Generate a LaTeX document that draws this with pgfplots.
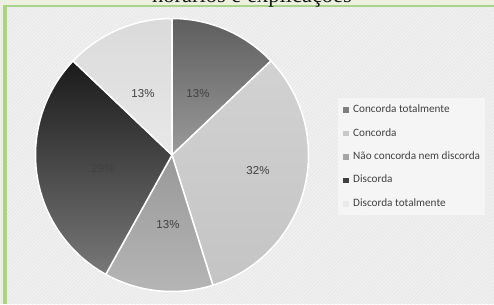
\documentclass[border=0pt]{standalone}
\usepackage{pgfplots}
\usepackage{pgfplotstable}
\pgfplotsset{compat=1.18}
\usetikzlibrary{patterns.meta}
\usepackage{fontspec}
\setmainfont{Liberation Sans}
\newfontfamily\carlito{Carlito}
\newfontfamily\titlefont{Liberation Serif}

\definecolor{bg}{HTML}{EAEAEA}
\definecolor{hatch}{HTML}{F4F4F4}
\definecolor{stripgreen}{HTML}{EBF1DE}
\definecolor{linegreen}{HTML}{A9D38A}
\definecolor{legbg}{HTML}{F5F5F5}
\definecolor{lbl}{HTML}{404040}
% legend colours
\definecolor{cA}{HTML}{7F7F7F}
\definecolor{cB}{HTML}{C8C8C8}
\definecolor{cC}{HTML}{A5A5A5}
\definecolor{cD}{HTML}{404040}
\definecolor{cE}{HTML}{EAEAEA}
% slice gradients (top / bottom)
\definecolor{tA}{HTML}{5E5E5E}\definecolor{bA}{HTML}{9A9A9A}
\definecolor{tB}{HTML}{D2D2D2}\definecolor{bB}{HTML}{C4C4C4}
\definecolor{tC}{HTML}{999999}\definecolor{bC}{HTML}{B6B6B6}
\definecolor{tD}{HTML}{1A1A1A}\definecolor{bD}{HTML}{787878}
\definecolor{tE}{HTML}{DADADA}\definecolor{bE}{HTML}{E8E8E8}

\pgfplotstableread{
idx value top bottom
0 4 tA bA
1 10 tB bB
2 4 tC bC
3 9 tD bD
4 4 tE bE
}\pietable

\pgfplotsset{sq/.style={legend image code/.code={\fill[#1] (0bp,-2.3bp) rectangle (4.6bp,2.3bp);}}}

\begin{document}
\begin{tikzpicture}
\begin{axis}[
  hide axis, x=1bp, y=1bp, xmin=0, xmax=494, ymin=0, ymax=304,
  scale only axis, clip=false,
  legend cell align=left,
  legend style={at={(axis cs:338,206)}, anchor=north west, fill=legbg, draw=none,
    font=\carlito\fontsize{11.2bp}{13bp}\selectfont, text=lbl,
    row sep=12.9bp, column sep=5bp, inner xsep=5bp, inner ysep=6.5bp,
    nodes={inner sep=0pt, text height=8bp, text depth=2.5bp}},
]
\coordinate (BL) at (axis cs:0,0);
\coordinate (TR) at (axis cs:494,304);
% background
\fill[bg] (axis cs:7,0) rectangle (axis cs:494,297);
\fill[pattern={Lines[angle=45, distance=2.6bp, line width=0.7bp]}, pattern color=hatch] (axis cs:7,0) rectangle (axis cs:494,297);
\fill[stripgreen] (axis cs:0,0) rectangle (axis cs:3,304);
\fill[stripgreen] (axis cs:0,299) rectangle (axis cs:494,304);
\fill[linegreen] (axis cs:3,0) rectangle (axis cs:7,299);
\fill[linegreen] (axis cs:3,297) rectangle (axis cs:494,299.3);
% title (cut at the top)
\node[font=\titlefont\fontsize{22.5bp}{26bp}\selectfont, anchor=base, text=black!90, inner sep=0pt]
  at (axis cs:252,301.5) {horários e explicações};
% pie
\def\total{0}
\pgfplotsforeachungrouped \i in {0,...,4}{%
  \pgfplotstablegetelem{\i}{value}\of\pietable
  \pgfmathsetmacro\total{\total+\pgfplotsretval}%
}
\def\cx{172}\def\cy{149}\def\R{136.5}
\gdef\startang{90}
\pgfplotsforeachungrouped \i in {0,...,4}{%
  \pgfplotstablegetelem{\i}{value}\of\pietable \let\v\pgfplotsretval
  \pgfplotstablegetelem{\i}{top}\of\pietable \let\ct\pgfplotsretval
  \pgfplotstablegetelem{\i}{bottom}\of\pietable \let\cb\pgfplotsretval
  \pgfmathsetmacro\endang{\startang-\v/\total*360}%
  \edef\cmd{\noexpand\shade[top color=\ct, bottom color=\cb, draw=white, line width=1.5bp]
    (axis cs:\cx,\cy) -- ++(\startang:\R bp) arc[start angle=\startang, end angle=\endang, radius=\R bp] -- cycle;}%
  \cmd
  \global\let\startang\endang
}
% data labels
\begin{scope}[every node/.style={font=\fontsize{11.5bp}{13bp}\selectfont, text=lbl}]
\node at (axis cs:198,210) {13\%};
\node at (axis cs:258,133) {32\%};
\node at (axis cs:168,79) {13\%};
\node at (axis cs:103,135) {29\%};
\node at (axis cs:143,210) {13\%};
\end{scope}
% legend
\addlegendimage{sq=cA}\addlegendentry{Concorda totalmente}
\addlegendimage{sq=cB}\addlegendentry{Concorda}
\addlegendimage{sq=cC}\addlegendentry{Não concorda nem discorda}
\addlegendimage{sq=cD}\addlegendentry{Discorda}
\addlegendimage{sq=cE}\addlegendentry{Discorda totalmente}
\end{axis}
\pgfresetboundingbox
\path[use as bounding box] (BL) rectangle (TR);
\end{tikzpicture}
\end{document}
